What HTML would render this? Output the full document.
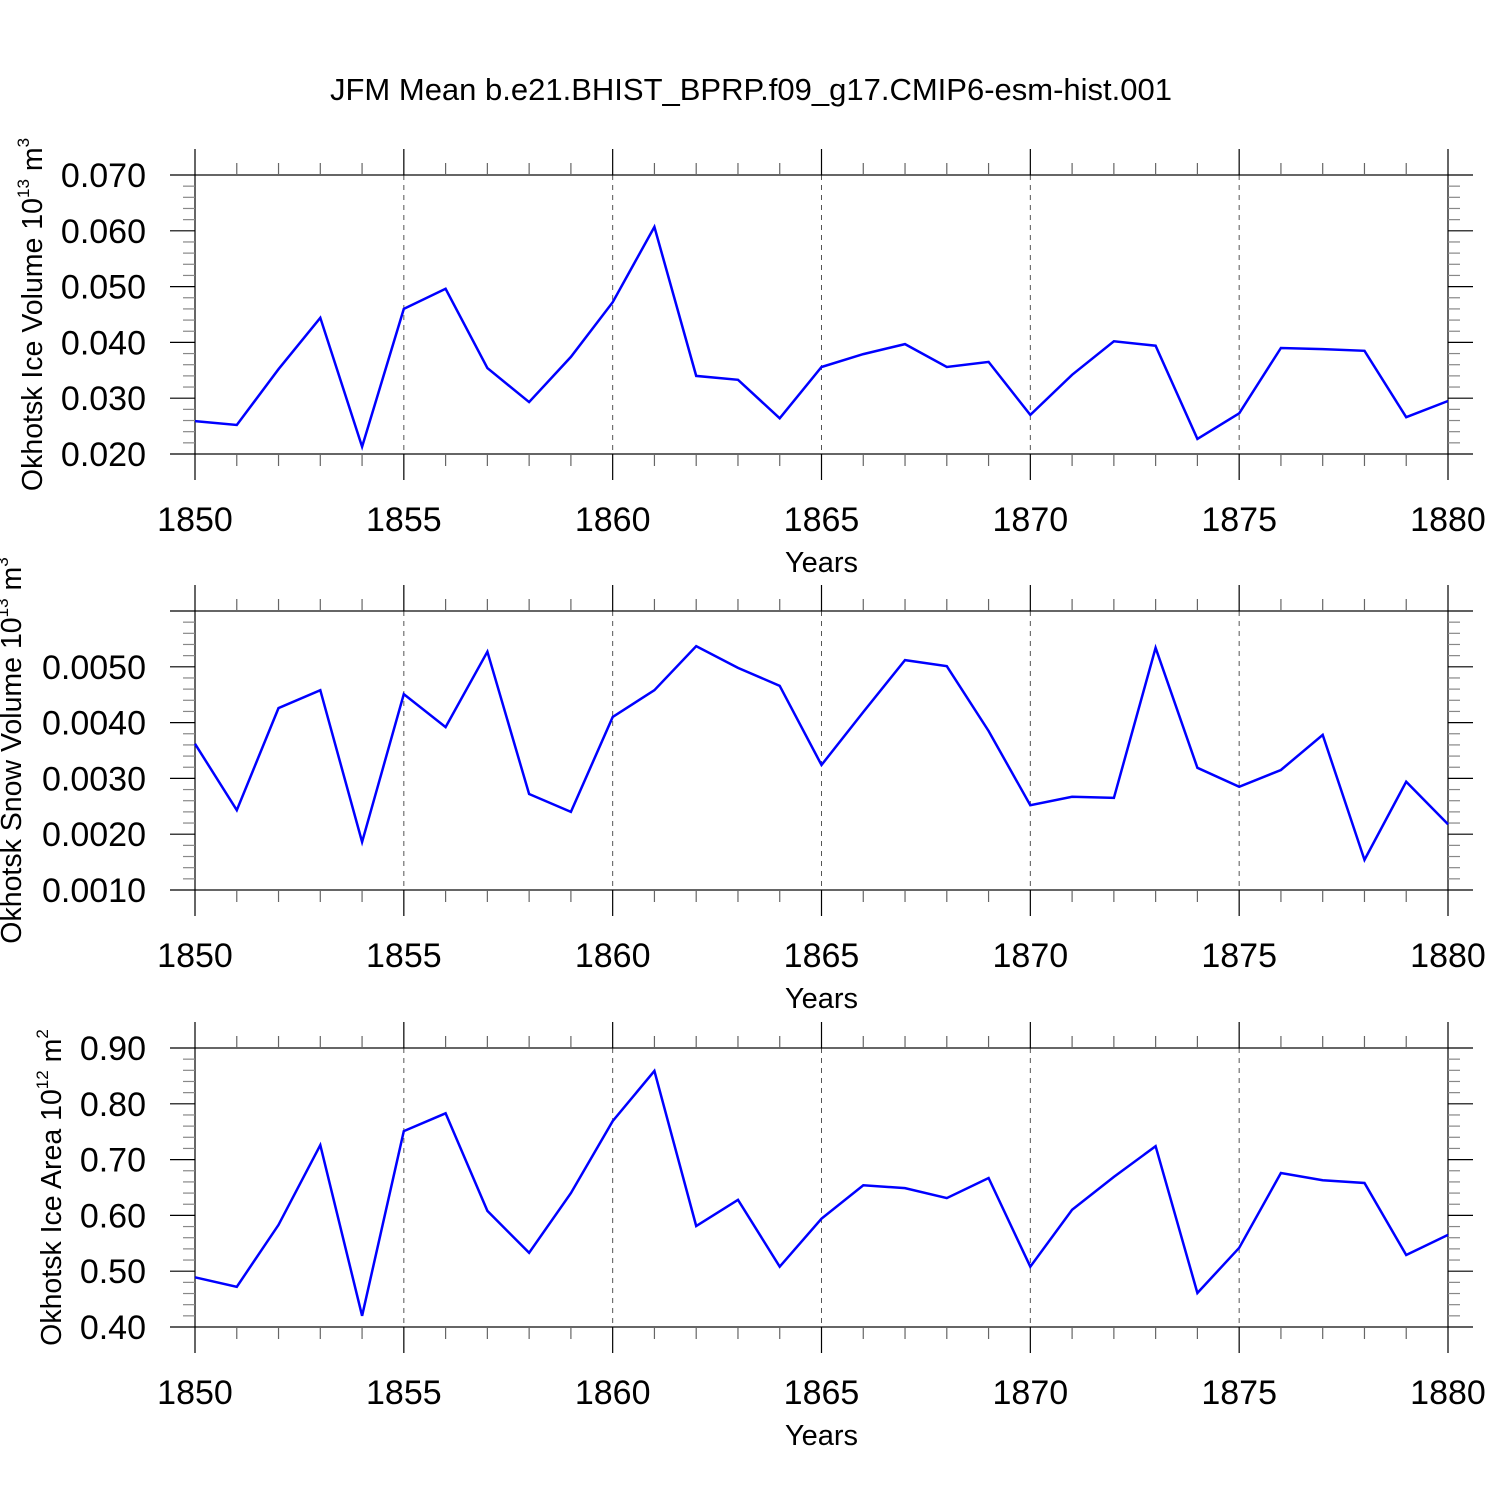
<!DOCTYPE html>
<html><head><meta charset="utf-8">
<style>
html,body{margin:0;padding:0;background:#fff;}
svg{display:block;font-family:"Liberation Sans",sans-serif;}
</style></head>
<body>
<svg id="chart" width="1500" height="1500" xmlns="http://www.w3.org/2000/svg">
<text x="751" y="100" font-size="31" text-anchor="middle">JFM Mean b.e21.BHIST_BPRP.f09_g17.CMIP6-esm-hist.001</text>
</svg>
<script>
const years = [1850,1851,1852,1853,1854,1855,1856,1857,1858,1859,1860,1861,1862,1863,1864,1865,1866,1867,1868,1869,1870,1871,1872,1873,1874,1875,1876,1877,1878,1879,1880];
const iceVolume = [0.0259,0.0252,0.0352,0.0444,0.0213,0.0460,0.0496,0.0354,0.0293,0.0374,0.0472,0.0607,0.0340,0.0333,0.0264,0.0356,0.0379,0.0397,0.0356,0.0365,0.0270,0.0342,0.0402,0.0394,0.0227,0.0273,0.0390,0.0388,0.0385,0.0266,0.0295];
const snowVolume = [0.00362,0.00243,0.00426,0.00458,0.00186,0.00451,0.00392,0.00527,0.00272,0.00240,0.00410,0.00458,0.00537,0.00498,0.00466,0.00324,0.00419,0.00512,0.00501,0.00385,0.00252,0.00267,0.00265,0.00534,0.00319,0.00285,0.00315,0.00378,0.00154,0.00294,0.00218];
const iceArea = [0.489,0.472,0.583,0.726,0.420,0.751,0.783,0.608,0.533,0.640,0.769,0.859,0.581,0.628,0.508,0.594,0.654,0.649,0.631,0.667,0.508,0.610,0.669,0.724,0.461,0.542,0.676,0.663,0.658,0.529,0.565];
const xTickLabels = ["1850","1855","1860","1865","1870","1875","1880"];
const iceVolTicks = ["0.020","0.030","0.040","0.050","0.060","0.070"];
const snowTicks = ["0.0010","0.0020","0.0030","0.0040","0.0050"];
const areaTicks = ["0.40","0.50","0.60","0.70","0.80","0.90"];

const svg = document.getElementById('chart');
const NS = 'http://www.w3.org/2000/svg';
const X0 = 195, X1 = 1448, XMIN = 1850, XMAX = 1880;
function xs(v){ return X0 + (v - XMIN) / (XMAX - XMIN) * (X1 - X0); }
function mk(tag, attrs, parent){
  const e = document.createElementNS(NS, tag);
  for (const k in attrs) e.setAttribute(k, attrs[k]);
  (parent || svg).appendChild(e);
  return e;
}
function panel(cfg){
  const g = mk('g', {});
  
  
  const top = cfg.top, bot = cfg.top + 279;
  const ys = v => bot - (v - cfg.ymin) / (cfg.ymax - cfg.ymin) * (bot - top);
  for (let yr = 1855; yr <= 1875; yr += 5) {
    const l = mk('line', {x1: xs(yr), x2: xs(yr), y1: top, y2: bot, stroke: '#555', 'stroke-width': 1, 'stroke-dasharray': '5,5'}, g);
    
    
  }
  const fr = mk('rect', {x: X0, y: top, width: X1 - X0, height: bot - top, fill: 'none', stroke: '#000', 'stroke-width': 1.2}, g);
  
  
  for (let yr = XMIN; yr <= XMAX; yr++) {
    const major = yr % 5 === 0, len = major ? 26 : 12;
    const c = major ? '#000' : '#666';
    mk('line', {x1: xs(yr), x2: xs(yr), y1: bot, y2: bot + len, stroke: c, 'stroke-width': 1.2}, g);
    mk('line', {x1: xs(yr), x2: xs(yr), y1: top, y2: top - len, stroke: c, 'stroke-width': 1.2}, g);
  }
  xTickLabels.forEach(s => {
    const t = mk('text', {x: xs(+s), y: bot + 77, 'font-size': 34, 'text-anchor': 'middle'}, g);
    t.textContent = s;
    
    
  });
  const xt = mk('text', {x: (X0 + X1) / 2, y: bot + 118, 'font-size': 29, 'text-anchor': 'middle'}, g);
  xt.textContent = 'Years';
  
  
  const nMinor = Math.round((cfg.ymax - cfg.ymin) / cfg.minor);
  for (let i = 0; i <= nMinor; i++) {
    const v = cfg.ymin + i * cfg.minor;
    const major = i % 5 === cfg.majorOffset, len = major ? 25 : 12;
    const c = major ? '#000' : '#888';
    mk('line', {x1: X0, x2: X0 - len, y1: ys(v), y2: ys(v), stroke: c, 'stroke-width': 1.2}, g);
    mk('line', {x1: X1, x2: X1 + len, y1: ys(v), y2: ys(v), stroke: c, 'stroke-width': 1.2}, g);
  }
  cfg.ticks.forEach(s => {
    const t = mk('text', {x: 146, y: ys(+s) + 12, 'font-size': 34, 'text-anchor': 'end'}, g);
    t.textContent = s;
    
    
  });
  const yt = mk('text', {transform: `translate(${cfg.titleX},${(top + bot) / 2}) rotate(-90)`, 'font-size': 28.5, 'text-anchor': 'middle'}, g);
  
  
  yt.appendChild(document.createTextNode(cfg.title + ' 10'));
  const sup = mk('tspan', {'font-size': 17, dy: -13}, yt); sup.textContent = cfg.exp;
  const m = mk('tspan', {dy: 13}, yt); m.textContent = ' m';
  const sup2 = mk('tspan', {'font-size': 17, dy: -13}, yt); sup2.textContent = cfg.unitExp;
  const pts = years.map((yr, i) => xs(yr).toFixed(1) + ',' + ys(cfg.data[i]).toFixed(1)).join(' ');
  const pl = mk('polyline', {points: pts, fill: 'none', stroke: '#0000ff', 'stroke-width': 2.5, 'stroke-linejoin': 'miter'}, g);
  
  
}
panel({name: 'ice-volume-panel', top: 175, ymin: 0.020, ymax: 0.070, minor: 0.002, majorOffset: 0, ticks: iceVolTicks, data: iceVolume, title: 'Okhotsk Ice Volume', exp: '13', unitExp: '3', titleX: 42});
panel({name: 'snow-volume-panel', top: 611, ymin: 0.0010, ymax: 0.0060, minor: 0.0002, majorOffset: 0, ticks: snowTicks, data: snowVolume, title: 'Okhotsk Snow Volume', exp: '13', unitExp: '3', titleX: 21});
panel({name: 'ice-area-panel', top: 1048, ymin: 0.40, ymax: 0.90, minor: 0.02, majorOffset: 0, ticks: areaTicks, data: iceArea, title: 'Okhotsk Ice Area', exp: '12', unitExp: '2', titleX: 61});
</script>
</body></html>
